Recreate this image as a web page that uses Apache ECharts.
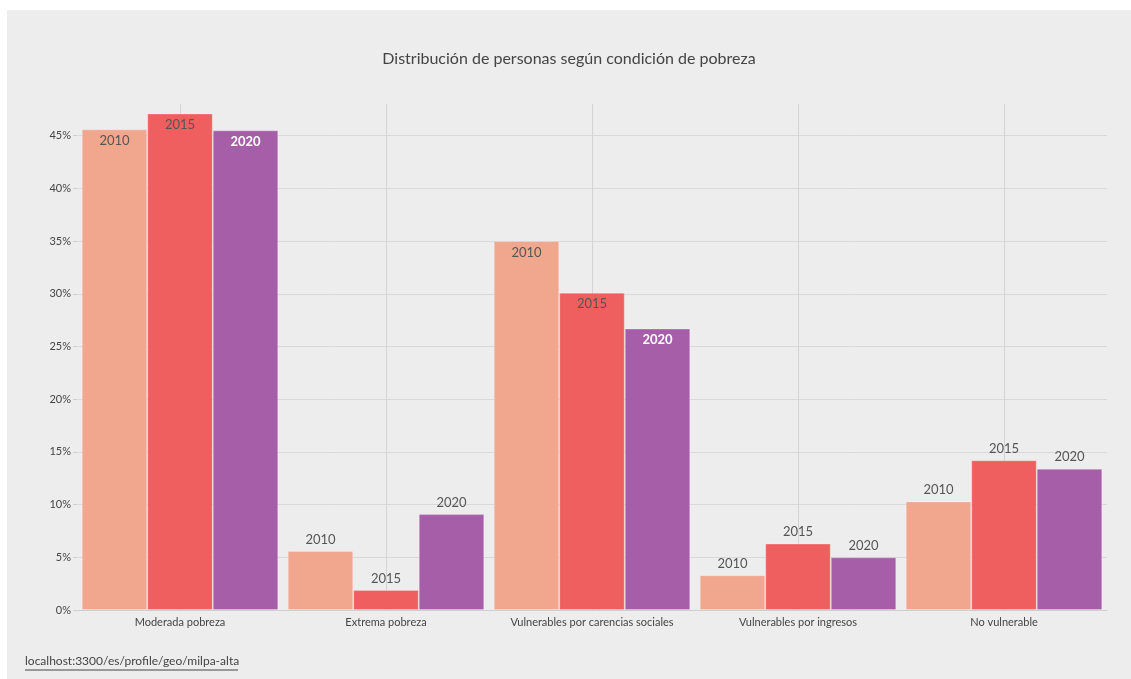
<!DOCTYPE html>
<html>
<head>
<meta charset="utf-8">
<script src="https://cdn.jsdelivr.net/npm/echarts@6/dist/echarts.min.js"></script>
<style>
html,body{margin:0;padding:0;background:#ffffff;width:1131px;height:679px;overflow:hidden;}
#chart{position:absolute;left:7px;top:10px;width:1124px;height:669px;background:#ededed;}
</style>
</head>
<body>
<div id="chart"></div>
<script>
const categories = ['Moderada pobreza', 'Extrema pobreza', 'Vulnerables por carencias sociales', 'Vulnerables por ingresos', 'No vulnerable'];
const years = ['2010', '2015', '2020'];
const values2010 = [45.6, 5.6, 35.0, 3.3, 10.3];
const values2015 = [47.1, 1.9, 30.1, 6.3, 14.2];
const values2020 = [45.5, 9.1, 26.7, 5.0, 13.4];
const yTicks = [0, 5, 10, 15, 20, 25, 30, 35, 40, 45];
const titleText = 'Distribución de personas según condición de pobreza';
const sourceText = 'localhost:3300/es/profile/geo/milpa-alta';

const FONT = 'Lato, "Noto Sans", sans-serif';
const colors = ['#f0a78e', '#f05f5f', '#a65ea8'];
const insideColors = ['#555555', '#555555', '#ffffff'];
const seriesValues = [values2010, values2015, values2020];

const chart = echarts.init(document.getElementById('chart'));

const series = years.map((yr, si) => ({
  name: yr,
  type: 'bar',
  barGap: '0%',
  barCategoryGap: '4.6%',
  itemStyle: { color: colors[si], borderColor: 'rgba(255,255,255,0.25)', borderWidth: 1 },
  data: seriesValues[si].map(v => {
    const inside = v > 20;
    return {
      value: v,
      label: {
        show: true,
        position: inside ? 'insideTop' : 'top',
        distance: 5,
        formatter: '{a}',
        fontFamily: FONT,
        fontSize: 13,
        color: inside ? insideColors[si] : '#555555',
        fontWeight: (inside && si === 2) ? 'bold' : 'normal'
      }
    };
  })
}));

chart.setOption({
  animation: false,
  backgroundColor: '#ededed',
  textStyle: { fontFamily: FONT },
  title: {
    text: titleText,
    left: 'center',
    top: 36,
    textStyle: { fontFamily: FONT, fontSize: 16, fontWeight: 'normal', color: '#444444' }
  },
  grid: { left: 70, right: 24, top: 94, bottom: 69, containLabel: false },
  xAxis: {
    type: 'category',
    data: categories,
    axisLine: { show: true, lineStyle: { color: '#cfcfcf', width: 1 } },
    axisTick: { show: false },
    axisLabel: { interval: 0, fontFamily: FONT, fontSize: 11, color: '#444444', margin: 7 },
    splitLine: { show: true, interval: 0, alignWithLabel: true, lineStyle: { color: '#d4d4d4', width: 1 } }
  },
  yAxis: {
    type: 'value',
    min: 0,
    max: 48,
    interval: 5,
    axisLine: { show: false },
    axisTick: { show: true, length: 4, lineStyle: { color: '#cfcfcf' } },
    axisLabel: {
      fontFamily: FONT, fontSize: 11, color: '#444444', margin: 6,
      showMaxLabel: false,
      formatter: v => (yTicks.indexOf(v) >= 0 ? v + '%' : '')
    },
    splitLine: { show: true, showMaxLine: false, lineStyle: { color: '#d9d9d9', width: 1 } }
  },
  series: series,
  graphic: [
    {
      type: 'text',
      left: 18,
      top: 645,
      style: { text: sourceText, fontFamily: FONT, fontSize: 12, fill: '#444444' }
    },
    {
      type: 'line',
      shape: { x1: 18, y1: 660, x2: 231, y2: 660 },
      style: { stroke: '#444444', lineWidth: 1 }
    }
  ]
});
</script>
</body>
</html>
